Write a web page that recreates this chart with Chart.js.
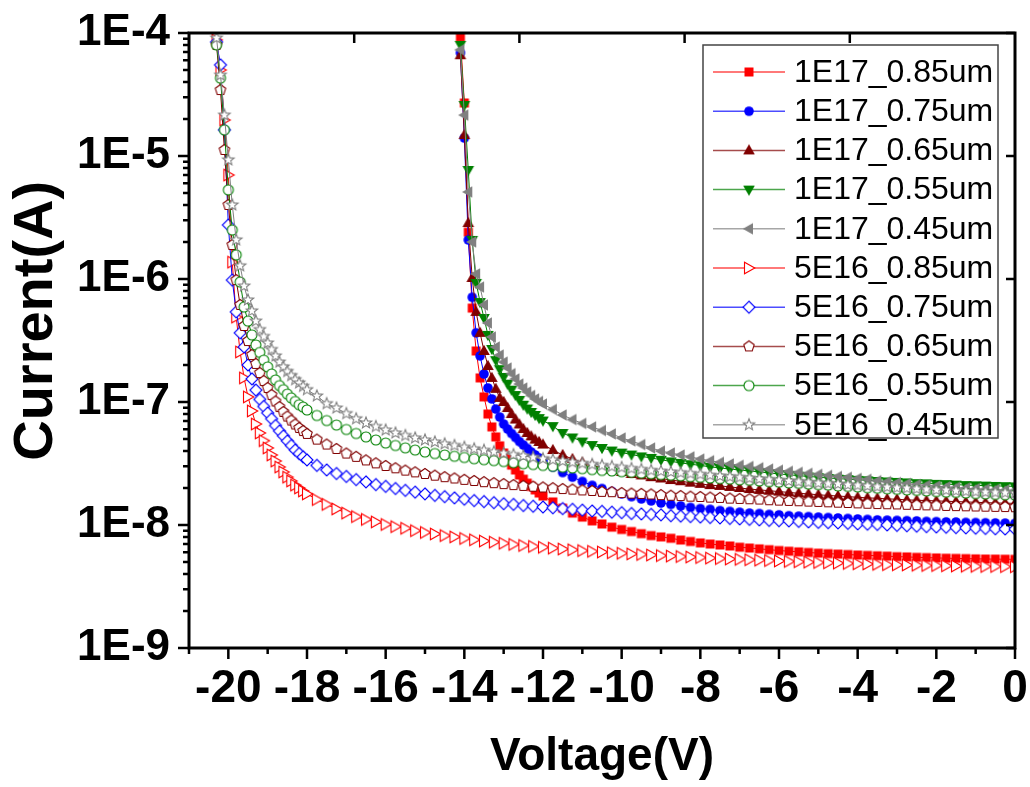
<!DOCTYPE html>
<html>
<head>
<meta charset="utf-8">
<title>Current vs Voltage</title>
<script src="https://cdn.jsdelivr.net/npm/chart.js@4.4.1/dist/chart.umd.min.js"></script>
<style>
  body { margin: 0; background: #fff; }
  #wrap { width: 1030px; height: 787px; }
</style>
</head>
<body>
<div id="wrap"><canvas id="ivChart" width="1030" height="787"></canvas></div>
<script>
// Voltage grids (V)
const volt17 = [
  -14.1, -14.0, -13.9, -13.8, -13.7, -13.6, -13.5, -13.4, -13.3, -13.2, -13.1,
  -13.0, -12.9, -12.8, -12.7, -12.6, -12.5, -12.4, -12.3, -12.2, -12.1, -12.0,
  -11.75, -11.5, -11.25, -11, -10.75, -10.5, -10.25, -10, -9.75, -9.5, -9.25, -9,
  -8.75, -8.5, -8.25, -8, -7.75, -7.5, -7.25, -7, -6.75, -6.5, -6.25, -6,
  -5.75, -5.5, -5.25, -5, -4.75, -4.5, -4.25, -4, -3.75, -3.5, -3.25, -3,
  -2.75, -2.5, -2.25, -2, -1.75, -1.5, -1.25, -1, -0.75, -0.5, -0.25, 0
];
const volt16 = [
  -20.3, -20.2, -20.1, -20.0, -19.9, -19.8, -19.7, -19.6, -19.5, -19.4, -19.3, -19.2,
  -19.1, -19.0, -18.9, -18.8, -18.7, -18.6, -18.5, -18.4, -18.3, -18.2, -18.1, -18.0,
  -17.75, -17.5, -17.25, -17, -16.75, -16.5, -16.25, -16, -15.75, -15.5, -15.25, -15,
  -14.75, -14.5, -14.25, -14, -13.75, -13.5, -13.25, -13, -12.75, -12.5, -12.25, -12,
  -11.75, -11.5, -11.25, -11, -10.75, -10.5, -10.25, -10, -9.75, -9.5, -9.25, -9,
  -8.75, -8.5, -8.25, -8, -7.75, -7.5, -7.25, -7, -6.75, -6.5, -6.25, -6,
  -5.75, -5.5, -5.25, -5, -4.75, -4.5, -4.25, -4, -3.75, -3.5, -3.25, -3,
  -2.75, -2.5, -2.25, -2, -1.75, -1.5, -1.25, -1, -0.75, -0.5, -0.25, 0
];

// Currents (A), 1E17 doping
const cur17_085 = [
  9.3e-5, 2.7e-5, 2.4e-6, 5.8e-7, 2.6e-7, 1.57e-7, 1.10e-7, 7.98e-8, 6.27e-8, 5.2e-8, 4.4e-8,
  3.85e-8, 3.44e-8, 3.07e-8, 2.80e-8, 2.55e-8, 2.36e-8, 2.19e-8, 2.06e-8, 1.93e-8, 1.82e-8, 1.72e-8,
  1.54e-8, 1.37e-8, 1.25e-8, 1.16e-8, 1.08e-8, 1.02e-8, 9.6e-9, 9.2e-9, 8.85e-9, 8.5e-9, 8.2e-9, 8.0e-9,
  7.8e-9, 7.55e-9, 7.35e-9, 7.15e-9, 7.0e-9, 6.88e-9, 6.75e-9, 6.6e-9, 6.5e-9, 6.4e-9, 6.3e-9, 6.2e-9,
  6.12e-9, 6.05e-9, 5.98e-9, 5.9e-9, 5.85e-9, 5.8e-9, 5.75e-9, 5.7e-9, 5.66e-9, 5.62e-9, 5.58e-9, 5.53e-9,
  5.5e-9, 5.46e-9, 5.43e-9, 5.4e-9, 5.37e-9, 5.35e-9, 5.33e-9, 5.31e-9, 5.29e-9, 5.28e-9, 5.27e-9, 5.26e-9
];
const cur17_075 = [
  6.9e-5, 1.4e-5, 2.08e-6, 7.1e-7, 3.65e-7, 2.37e-7, 1.69e-7, 1.30e-7, 1.06e-7, 8.77e-8, 7.55e-8,
  6.62e-8, 6.03e-8, 5.55e-8, 5.15e-8, 4.77e-8, 4.47e-8, 4.19e-8, 3.92e-8, 3.71e-8, 3.51e-8, 3.31e-8,
  2.96e-8, 2.67e-8, 2.45e-8, 2.26e-8, 2.10e-8, 1.98e-8, 1.87e-8, 1.79e-8, 1.70e-8, 1.63e-8, 1.57e-8, 1.51e-8,
  1.47e-8, 1.43e-8, 1.39e-8, 1.36e-8, 1.34e-8, 1.31e-8, 1.29e-8, 1.27e-8, 1.25e-8, 1.24e-8, 1.22e-8, 1.21e-8,
  1.19e-8, 1.18e-8, 1.17e-8, 1.16e-8, 1.15e-8, 1.14e-8, 1.13e-8, 1.12e-8, 1.11e-8, 1.10e-8, 1.095e-8, 1.09e-8,
  1.085e-8, 1.08e-8, 1.07e-8, 1.066e-8, 1.06e-8, 1.057e-8, 1.05e-8, 1.047e-8, 1.044e-8, 1.04e-8, 1.036e-8, 1.032e-8
];
const cur17_065 = [
  6.6e-5, 1.48e-5, 2.85e-6, 1.02e-6, 5.4e-7, 3.65e-7, 2.6e-7, 1.96e-7, 1.57e-7, 1.28e-7, 1.08e-7,
  1.0e-7, 8.93e-8, 7.98e-8, 7.2e-8, 6.57e-8, 6.03e-8, 5.6e-8, 5.25e-8, 4.95e-8, 4.73e-8, 4.51e-8,
  4.07e-8, 3.71e-8, 3.44e-8, 3.22e-8, 3.05e-8, 2.91e-8, 2.80e-8, 2.70e-8, 2.60e-8, 2.53e-8, 2.45e-8, 2.39e-8,
  2.32e-8, 2.27e-8, 2.21e-8, 2.16e-8, 2.11e-8, 2.08e-8, 2.04e-8, 2.0e-8, 1.96e-8, 1.93e-8, 1.90e-8, 1.87e-8,
  1.84e-8, 1.81e-8, 1.79e-8, 1.76e-8, 1.74e-8, 1.72e-8, 1.70e-8, 1.68e-8, 1.66e-8, 1.65e-8, 1.63e-8, 1.62e-8,
  1.60e-8, 1.59e-8, 1.58e-8, 1.57e-8, 1.56e-8, 1.55e-8, 1.54e-8, 1.53e-8, 1.52e-8, 1.51e-8, 1.505e-8, 1.50e-8
];
const cur17_055 = [
  8.0e-5, 2.6e-5, 7.7e-6, 2.08e-6, 9.3e-7, 6.5e-7, 4.82e-7, 3.51e-7, 2.70e-7, 2.19e-7, 1.85e-7,
  1.60e-7, 1.41e-7, 1.26e-7, 1.14e-7, 1.04e-7, 9.5e-8, 8.85e-8, 8.3e-8, 7.84e-8, 7.4e-8, 7.07e-8,
  6.37e-8, 5.6e-8, 5.15e-8, 4.77e-8, 4.47e-8, 4.23e-8, 4.03e-8, 3.88e-8, 3.74e-8, 3.61e-8, 3.51e-8, 3.39e-8,
  3.29e-8, 3.2e-8, 3.12e-8, 3.05e-8, 2.97e-8, 2.91e-8, 2.85e-8, 2.80e-8, 2.75e-8, 2.70e-8, 2.65e-8, 2.60e-8,
  2.56e-8, 2.52e-8, 2.48e-8, 2.45e-8, 2.41e-8, 2.38e-8, 2.36e-8, 2.33e-8, 2.31e-8, 2.28e-8, 2.26e-8, 2.24e-8,
  2.22e-8, 2.19e-8, 2.18e-8, 2.16e-8, 2.15e-8, 2.13e-8, 2.11e-8, 2.10e-8, 2.09e-8, 2.08e-8, 2.07e-8, 2.06e-8
];
const cur17_045 = [
  7.3e-5, 2.15e-5, 5.1e-6, 2.0e-6, 1.1e-6, 8.6e-7, 6.15e-7, 4.39e-7, 3.38e-7, 2.80e-7, 2.41e-7,
  2.11e-7, 1.89e-7, 1.70e-7, 1.54e-7, 1.40e-7, 1.30e-7, 1.21e-7, 1.13e-7, 1.06e-7, 1.01e-7, 9.63e-8,
  8.7e-8, 7.84e-8, 7.2e-8, 6.7e-8, 6.27e-8, 5.87e-8, 5.5e-8, 5.1e-8, 4.82e-8, 4.51e-8, 4.23e-8, 3.99e-8,
  3.85e-8, 3.71e-8, 3.58e-8, 3.44e-8, 3.33e-8, 3.23e-8, 3.14e-8, 3.06e-8, 2.99e-8, 2.92e-8, 2.85e-8, 2.79e-8,
  2.73e-8, 2.68e-8, 2.63e-8, 2.58e-8, 2.53e-8, 2.48e-8, 2.44e-8, 2.39e-8, 2.35e-8, 2.29e-8, 2.25e-8, 2.21e-8,
  2.17e-8, 2.13e-8, 2.10e-8, 2.07e-8, 2.04e-8, 2.02e-8, 1.99e-8, 1.97e-8, 1.95e-8, 1.94e-8, 1.92e-8, 1.91e-8
];

// Currents (A), 5E16 doping
const cur16_085 = [
  8.8e-5, 5.0e-5, 1.96e-5, 7.0e-6, 1.37e-6, 4.9e-7, 2.55e-7, 1.57e-7, 1.10e-7, 8.45e-8, 6.62e-8, 5.6e-8,
  4.85e-8, 4.23e-8, 3.71e-8, 3.31e-8, 2.96e-8, 2.70e-8, 2.45e-8, 2.28e-8, 2.11e-8, 2.0e-8, 1.89e-8, 1.79e-8,
  1.61e-8, 1.47e-8, 1.35e-8, 1.25e-8, 1.17e-8, 1.11e-8, 1.06e-8, 1.01e-8, 9.7e-9, 9.4e-9, 9.0e-9, 8.7e-9,
  8.45e-9, 8.2e-9, 8.0e-9, 7.77e-9, 7.58e-9, 7.41e-9, 7.25e-9, 7.1e-9, 6.95e-9, 6.82e-9, 6.7e-9, 6.59e-9,
  6.48e-9, 6.38e-9, 6.29e-9, 6.19e-9, 6.11e-9, 6.03e-9, 5.95e-9, 5.89e-9, 5.82e-9, 5.76e-9, 5.7e-9, 5.64e-9,
  5.59e-9, 5.54e-9, 5.49e-9, 5.44e-9, 5.38e-9, 5.34e-9, 5.29e-9, 5.26e-9, 5.22e-9, 5.18e-9, 5.14e-9, 5.1e-9,
  5.06e-9, 5.03e-9, 4.99e-9, 4.96e-9, 4.93e-9, 4.9e-9, 4.87e-9, 4.84e-9, 4.82e-9, 4.79e-9, 4.76e-9, 4.75e-9,
  4.73e-9, 4.71e-9, 4.69e-9, 4.68e-9, 4.66e-9, 4.64e-9, 4.62e-9, 4.61e-9, 4.6e-9, 4.6e-9, 4.59e-9, 4.58e-9
];
const cur16_075 = [
  8.45e-5, 5.5e-5, 1.63e-5, 2.75e-6, 9.8e-7, 5.4e-7, 3.65e-7, 2.8e-7, 2.0e-7, 1.54e-7, 1.25e-7, 1.05e-7,
  9.2e-8, 8.14e-8, 7.3e-8, 6.44e-8, 5.81e-8, 5.3e-8, 4.82e-8, 4.43e-8, 4.07e-8, 3.81e-8, 3.58e-8, 3.38e-8,
  3.05e-8, 2.80e-8, 2.62e-8, 2.48e-8, 2.34e-8, 2.24e-8, 2.13e-8, 2.06e-8, 1.98e-8, 1.91e-8, 1.85e-8, 1.79e-8,
  1.74e-8, 1.70e-8, 1.66e-8, 1.62e-8, 1.58e-8, 1.55e-8, 1.52e-8, 1.49e-8, 1.47e-8, 1.44e-8, 1.42e-8, 1.40e-8,
  1.38e-8, 1.36e-8, 1.34e-8, 1.32e-8, 1.30e-8, 1.29e-8, 1.27e-8, 1.26e-8, 1.24e-8, 1.23e-8, 1.22e-8, 1.21e-8,
  1.19e-8, 1.18e-8, 1.17e-8, 1.16e-8, 1.15e-8, 1.14e-8, 1.13e-8, 1.12e-8, 1.11e-8, 1.10e-8, 1.09e-8, 1.085e-8,
  1.08e-8, 1.07e-8, 1.06e-8, 1.05e-8, 1.045e-8, 1.04e-8, 1.03e-8, 1.02e-8, 1.015e-8, 1.01e-8, 1.0e-8, 9.93e-9,
  9.85e-9, 9.78e-9, 9.7e-9, 9.63e-9, 9.58e-9, 9.53e-9, 9.47e-9, 9.42e-9, 9.37e-9, 9.32e-9, 9.28e-9, 9.25e-9
];
const cur16_065 = [
  8.0e-5, 3.44e-5, 1.12e-5, 4.0e-6, 1.89e-6, 9.8e-7, 6.15e-7, 4.15e-7, 3.13e-7, 2.41e-7, 2.04e-7, 1.72e-7,
  1.48e-7, 1.30e-7, 1.14e-7, 1.01e-7, 9.1e-8, 8.3e-8, 7.62e-8, 7.07e-8, 6.57e-8, 6.15e-8, 5.81e-8, 5.5e-8,
  4.95e-8, 4.51e-8, 4.15e-8, 3.81e-8, 3.58e-8, 3.35e-8, 3.17e-8, 3.02e-8, 2.89e-8, 2.77e-8, 2.68e-8, 2.60e-8,
  2.52e-8, 2.45e-8, 2.39e-8, 2.33e-8, 2.28e-8, 2.23e-8, 2.19e-8, 2.15e-8, 2.11e-8, 2.08e-8, 2.05e-8, 2.02e-8,
  1.99e-8, 1.96e-8, 1.94e-8, 1.91e-8, 1.89e-8, 1.86e-8, 1.85e-8, 1.82e-8, 1.80e-8, 1.79e-8, 1.77e-8, 1.75e-8,
  1.73e-8, 1.72e-8, 1.70e-8, 1.69e-8, 1.67e-8, 1.66e-8, 1.64e-8, 1.63e-8, 1.62e-8, 1.61e-8, 1.59e-8, 1.58e-8,
  1.57e-8, 1.56e-8, 1.55e-8, 1.54e-8, 1.53e-8, 1.52e-8, 1.51e-8, 1.50e-8, 1.49e-8, 1.48e-8, 1.475e-8, 1.47e-8,
  1.46e-8, 1.45e-8, 1.445e-8, 1.44e-8, 1.43e-8, 1.425e-8, 1.42e-8, 1.415e-8, 1.41e-8, 1.405e-8, 1.40e-8, 1.395e-8
];
const cur16_055 = [
  8.0e-5, 4.3e-5, 1.63e-5, 5.3e-6, 2.5e-6, 1.57e-6, 9.45e-7, 5.92e-7, 4.55e-7, 3.51e-7, 2.91e-7, 2.53e-7,
  2.19e-7, 1.93e-7, 1.69e-7, 1.51e-7, 1.36e-7, 1.26e-7, 1.16e-7, 1.08e-7, 1.01e-7, 9.5e-8, 9.1e-8, 8.61e-8,
  7.77e-8, 7.07e-8, 6.5e-8, 5.98e-8, 5.55e-8, 5.2e-8, 4.91e-8, 4.64e-8, 4.43e-8, 4.24e-8, 4.07e-8, 3.92e-8,
  3.81e-8, 3.71e-8, 3.62e-8, 3.54e-8, 3.46e-8, 3.4e-8, 3.34e-8, 3.28e-8, 3.21e-8, 3.15e-8, 3.1e-8, 3.05e-8,
  3.0e-8, 2.95e-8, 2.91e-8, 2.87e-8, 2.82e-8, 2.78e-8, 2.75e-8, 2.71e-8, 2.68e-8, 2.64e-8, 2.61e-8, 2.57e-8,
  2.54e-8, 2.51e-8, 2.47e-8, 2.44e-8, 2.41e-8, 2.38e-8, 2.36e-8, 2.33e-8, 2.31e-8, 2.28e-8, 2.25e-8, 2.23e-8,
  2.2e-8, 2.18e-8, 2.15e-8, 2.13e-8, 2.11e-8, 2.08e-8, 2.06e-8, 2.04e-8, 2.01e-8, 1.99e-8, 1.97e-8, 1.95e-8,
  1.93e-8, 1.91e-8, 1.89e-8, 1.87e-8, 1.85e-8, 1.84e-8, 1.82e-8, 1.80e-8, 1.79e-8, 1.77e-8, 1.76e-8, 1.75e-8
];
const cur16_045 = [
  9.1e-5, 4.55e-5, 2.15e-5, 9.3e-6, 4.0e-6, 2.08e-6, 1.28e-6, 8.77e-7, 6.75e-7, 5.5e-7, 4.55e-7, 3.88e-7,
  3.41e-7, 3.02e-7, 2.67e-7, 2.37e-7, 2.11e-7, 1.93e-7, 1.77e-7, 1.64e-7, 1.52e-7, 1.43e-7, 1.34e-7, 1.26e-7,
  1.12e-7, 9.7e-8, 8.93e-8, 8.05e-8, 7.3e-8, 6.75e-8, 6.32e-8, 5.92e-8, 5.6e-8, 5.34e-8, 5.1e-8, 4.91e-8,
  4.73e-8, 4.57e-8, 4.43e-8, 4.29e-8, 4.16e-8, 4.05e-8, 3.94e-8, 3.83e-8, 3.73e-8, 3.64e-8, 3.55e-8, 3.46e-8,
  3.39e-8, 3.31e-8, 3.24e-8, 3.17e-8, 3.11e-8, 3.05e-8, 2.99e-8, 2.94e-8, 2.88e-8, 2.83e-8, 2.78e-8, 2.74e-8,
  2.70e-8, 2.66e-8, 2.62e-8, 2.58e-8, 2.54e-8, 2.50e-8, 2.47e-8, 2.44e-8, 2.40e-8, 2.37e-8, 2.34e-8, 2.31e-8,
  2.28e-8, 2.25e-8, 2.22e-8, 2.19e-8, 2.17e-8, 2.15e-8, 2.12e-8, 2.10e-8, 2.08e-8, 2.05e-8, 2.03e-8, 2.01e-8,
  1.99e-8, 1.97e-8, 1.95e-8, 1.93e-8, 1.92e-8, 1.90e-8, 1.88e-8, 1.87e-8, 1.85e-8, 1.84e-8, 1.83e-8, 1.81e-8
];

// Series description
const seriesNames = ['1E17_0.85um', '1E17_0.75um', '1E17_0.65um', '1E17_0.55um', '1E17_0.45um',
                     '5E16_0.85um', '5E16_0.75um', '5E16_0.65um', '5E16_0.55um', '5E16_0.45um'];
const seriesVolts = [volt17, volt17, volt17, volt17, volt17, volt16, volt16, volt16, volt16, volt16];
const seriesCurrents = [cur17_085, cur17_075, cur17_065, cur17_055, cur17_045,
                        cur16_085, cur16_075, cur16_065, cur16_055, cur16_045];
const seriesColors = ['#ff0000', '#0000ff', '#800000', '#008000', '#808080',
                      '#ff0000', '#0000ff', '#800000', '#008000', '#808080'];
const seriesShapes = ['square', 'circle', 'up', 'down', 'left',
                      'right', 'diamond', 'pentagon', 'circle', 'star'];
const seriesFilled = [true, true, true, true, true, false, false, false, false, false];

// Axis ticks and titles
const xTicks = [-20, -18, -16, -14, -12, -10, -8, -6, -4, -2, 0];
const yTicks = [1e-9, 1e-8, 1e-7, 1e-6, 1e-5, 1e-4];
const yTickLabels = ['1E-9', '1E-8', '1E-7', '1E-6', '1E-5', '1E-4'];
const xTitle = 'Voltage(V)';
const yTitle = 'Current(A)';

const fontFamily = 'Arial, "Liberation Sans", sans-serif';

// Build a small canvas used as point marker
function makeMarker(shape, color, filled) {
  const size = 18, c = size / 2;
  const cv = document.createElement('canvas');
  cv.width = size;
  cv.height = size;
  const g = cv.getContext('2d');
  g.beginPath();
  if (shape === 'square') {
    g.rect(c - 4.5, c - 4.5, 9, 9);
  } else if (shape === 'circle') {
    g.arc(c, c, filled ? 4.8 : 5, 0, Math.PI * 2);
  } else {
    let pts = [];
    if (shape === 'up') pts = [[0, -6.2], [5.8, 4], [-5.8, 4]];
    if (shape === 'down') pts = [[0, 6.2], [5.8, -4], [-5.8, -4]];
    if (shape === 'left') pts = [[-6.2, 0], [4, -5.8], [4, 5.8]];
    if (shape === 'right') pts = [[5.8, 0], [-4.5, -5.8], [-4.5, 5.8]];
    if (shape === 'diamond') pts = [[0, -6], [6, 0], [0, 6], [-6, 0]];
    if (shape === 'pentagon') {
      for (let k = 0; k < 5; k++) {
        const a = -Math.PI / 2 + k * 2 * Math.PI / 5;
        pts.push([5.5 * Math.cos(a), 5.5 * Math.sin(a)]);
      }
    }
    if (shape === 'star') {
      for (let k = 0; k < 10; k++) {
        const a = -Math.PI / 2 + k * Math.PI / 5;
        const r = k % 2 === 0 ? 6 : 2.6;
        pts.push([r * Math.cos(a), r * Math.sin(a)]);
      }
    }
    pts.forEach(([px, py], i) => {
      if (i === 0) g.moveTo(c + px, c + py);
      else g.lineTo(c + px, c + py);
    });
  }
  g.closePath();
  if (filled) {
    g.fillStyle = color;
    g.fill();
  } else {
    g.fillStyle = '#ffffff';
    g.fill();
    g.strokeStyle = color;
    g.lineWidth = 1.1;
    g.stroke();
  }
  return cv;
}

const markers = seriesNames.map((n, k) => makeMarker(seriesShapes[k], seriesColors[k], seriesFilled[k]));

const datasets = seriesNames.map((name, k) => ({
  label: name,
  data: seriesVolts[k].map((v, i) => ({ x: v, y: seriesCurrents[k][i] })),
  showLine: true,
  borderColor: seriesColors[k],
  backgroundColor: seriesColors[k],
  borderWidth: 1,
  pointStyle: markers[k],
  pointRadius: 6,
  pointHoverRadius: 6,
  clip: 0,
  order: seriesNames.length - k
}));

// Axis frame with Origin-style ticks, plus the rotated y title
const framePlugin = {
  id: 'frame',
  afterDraw(chart) {
    const { ctx, chartArea: a, scales: { x, y } } = chart;
    ctx.save();
    ctx.strokeStyle = '#000';
    ctx.lineWidth = 2.5;
    ctx.beginPath();
    // bottom, outward
    for (let v = Math.ceil(x.min); v <= x.max; v++) {
      const px = x.getPixelForValue(v);
      const len = v % 2 === 0 ? 11 : 6;
      ctx.moveTo(px, a.bottom);
      ctx.lineTo(px, a.bottom + len);
    }
    // left, outward (log minor ticks)
    const eMin = Math.round(Math.log10(y.min));
    const eMax = Math.round(Math.log10(y.max));
    for (let e = eMin; e <= eMax; e++) {
      for (let m = 1; m <= 9; m++) {
        const val = m * Math.pow(10, e);
        if (val > y.max * 1.0001) break;
        const py = y.getPixelForValue(val);
        const len = m === 1 ? 11 : 6;
        ctx.moveTo(a.left, py);
        ctx.lineTo(a.left - len, py);
        if (m === 1) {
          // right, inward
          ctx.moveTo(a.right, py);
          ctx.lineTo(a.right - 9, py);
        }
      }
    }
    // top, inward
    for (let k = 1; k < 5; k++) {
      const px = a.left + (a.right - a.left) * k / 5;
      ctx.moveTo(px, a.top);
      ctx.lineTo(px, a.top + 10);
    }
    ctx.stroke();
    ctx.lineWidth = 3;
    ctx.strokeRect(a.left, a.top, a.right - a.left, a.bottom - a.top);

    // y title
    ctx.translate(37, a.top + (a.bottom - a.top) * 0.468);
    ctx.rotate(-Math.PI / 2);
    ctx.fillStyle = '#000';
    ctx.font = 'bold 56px ' + fontFamily;
    ctx.textAlign = 'center';
    ctx.textBaseline = 'middle';
    ctx.fillText(yTitle, 0, 0);
    ctx.restore();
  }
};

// Boxed legend with line + marker samples
const legendPlugin = {
  id: 'boxLegend',
  afterDraw(chart) {
    const { ctx, chartArea: a } = chart;
    const boxW = 295, boxH = 393;
    const bx = a.right - 312, by = a.top + 12;
    const rowH = 39.2;
    ctx.save();
    ctx.fillStyle = '#fff';
    ctx.fillRect(bx, by, boxW, boxH);
    ctx.strokeStyle = '#444';
    ctx.lineWidth = 1.5;
    ctx.strokeRect(bx, by, boxW, boxH);
    ctx.font = '32px ' + fontFamily;
    ctx.textBaseline = 'middle';
    ctx.textAlign = 'left';
    seriesNames.forEach((name, k) => {
      const ry = by + 27 + k * rowH;
      ctx.strokeStyle = seriesColors[k];
      ctx.globalAlpha = 0.7;
      ctx.lineWidth = 1.5;
      ctx.beginPath();
      ctx.moveTo(bx + 10, ry);
      ctx.lineTo(bx + 82, ry);
      ctx.stroke();
      ctx.globalAlpha = 1;
      const mk = markers[k];
      ctx.drawImage(mk, bx + 46 - mk.width / 2, ry - mk.height / 2);
      ctx.fillStyle = '#000';
      ctx.fillText(name, bx + 91, ry + 1);
    });
    ctx.restore();
  }
};

const ctx = document.getElementById('ivChart').getContext('2d');
new Chart(ctx, {
  type: 'scatter',
  data: { datasets: datasets },
  options: {
    responsive: false,
    animation: false,
    layout: { padding: { left: 0, right: 15, top: 33, bottom: 0 } },
    plugins: {
      legend: { display: false },
      tooltip: { enabled: false }
    },
    scales: {
      x: {
        type: 'linear',
        min: -21,
        max: 0,
        grid: { display: false, drawTicks: false, tickLength: 0 },
        border: { display: false },
        afterBuildTicks: s => { s.ticks = xTicks.map(v => ({ value: v })); },
        afterFit: s => {
          s.height = 139;
          s.paddingLeft = 0;
          s.paddingRight = 0;
        },
        ticks: {
          autoSkip: false,
          maxRotation: 0,
          minRotation: 0,
          padding: 14,
          color: '#000',
          font: { family: fontFamily, size: 46, weight: 'bold' },
          callback: v => String(v)
        },
        title: {
          display: true,
          text: xTitle,
          color: '#000',
          font: { family: fontFamily, size: 46, weight: 'bold' },
          padding: { top: 0, bottom: 2 }
        }
      },
      y: {
        type: 'logarithmic',
        min: 1e-9,
        max: 1e-4,
        grid: { display: false, drawTicks: false, tickLength: 0 },
        border: { display: false },
        afterBuildTicks: s => { s.ticks = yTicks.map(v => ({ value: v })); },
        afterFit: s => {
          s.width = 189;
          s.paddingTop = 0;
          s.paddingBottom = 0;
        },
        ticks: {
          autoSkip: false,
          padding: 19,
          color: '#000',
          font: { family: fontFamily, size: 44, weight: 'bold' },
          callback: (v, i) => yTickLabels[i]
        },
        title: { display: false }
      }
    }
  },
  plugins: [framePlugin, legendPlugin]
});
</script>
</body>
</html>
